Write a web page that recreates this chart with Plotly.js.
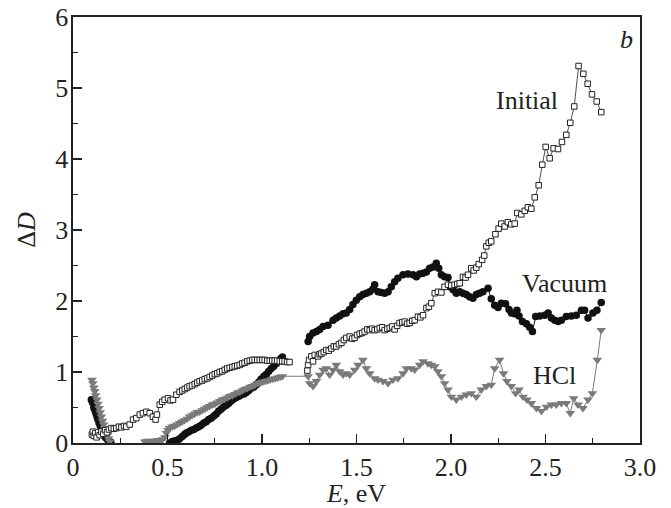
<!DOCTYPE html>
<html>
<head>
<meta charset="utf-8">
<script src="https://cdn.plot.ly/plotly-3.0.1.min.js"></script>
<style>html,body{margin:0;padding:0;background:#fff;}#chart{width:671px;height:508px;}</style>
</head>
<body>
<div id="chart"></div>
<script>
// ---- Data ----
// Initial (open squares); null marks the spectral gap
const initialE = [0.100,0.105,0.110,0.118,0.125,0.133,0.141,0.150,0.160,0.170,0.180,0.190,0.203,0.216,0.229,0.243,0.256,0.270,0.282,0.300,0.318,0.335,0.353,0.370,0.388,0.406,0.423,0.437,0.444,0.459,0.472,0.485,0.503,0.516,0.529,0.547,0.564,0.578,0.591,0.604,0.617,0.630,0.644,0.657,0.670,0.684,0.697,0.710,0.723,0.737,0.750,0.763,0.776,0.790,0.803,0.816,0.829,0.843,0.856,0.869,0.882,0.895,0.908,0.922,0.935,0.948,0.961,0.975,0.988,1.001,1.014,1.028,1.041,1.054,1.067,1.080,1.094,1.107,1.120,1.133,1.146,
 null,
 1.240,1.244,1.249,1.261,1.270,1.279,1.296,1.305,1.314,1.327,1.340,1.353,1.367,1.380,1.393,1.407,1.420,1.433,1.446,1.464,1.477,1.490,1.503,1.517,1.530,1.543,1.557,1.570,1.583,1.596,1.610,1.623,1.636,1.649,1.663,1.676,1.689,1.702,1.715,1.728,1.742,1.755,1.768,1.781,1.795,1.808,1.825,1.838,1.852,1.870,1.883,1.896,1.914,1.931,1.949,1.966,1.984,2.001,2.019,2.033,2.046,2.063,2.077,2.090,2.107,2.120,2.134,2.147,2.165,2.176,2.187,2.200,2.213,2.235,2.252,2.266,2.284,2.301,2.319,2.337,2.351,2.372,2.390,2.407,2.425,2.443,2.464,2.483,2.501,2.522,2.543,2.566,2.587,2.610,2.631,2.652,2.675,2.700,2.723,2.746,2.771,2.795];
const initialD = [0.12,0.16,0.10,0.14,0.08,0.15,0.11,0.16,0.13,0.18,0.15,0.19,0.21,0.20,0.21,0.23,0.22,0.24,0.23,0.26,0.33,0.35,0.40,0.42,0.44,0.42,0.37,0.33,0.40,0.54,0.58,0.61,0.63,0.60,0.61,0.68,0.72,0.74,0.76,0.78,0.80,0.81,0.83,0.85,0.87,0.88,0.90,0.91,0.93,0.95,0.97,0.98,1.00,1.01,1.03,1.05,1.06,1.07,1.08,1.09,1.10,1.12,1.13,1.15,1.16,1.17,1.17,1.17,1.17,1.17,1.17,1.16,1.16,1.16,1.16,1.16,1.15,1.15,1.15,1.14,1.14,
 null,
 1.02,1.10,1.17,1.22,1.15,1.24,1.22,1.25,1.26,1.28,1.31,1.30,1.33,1.36,1.36,1.39,1.41,1.45,1.48,1.50,1.47,1.48,1.52,1.54,1.55,1.57,1.60,1.59,1.61,1.59,1.60,1.62,1.63,1.59,1.61,1.62,1.64,1.60,1.65,1.69,1.70,1.71,1.68,1.69,1.72,1.73,1.78,1.77,1.80,1.90,1.92,1.97,2.11,2.13,2.12,2.20,2.23,2.22,2.23,2.24,2.25,2.34,2.33,2.37,2.46,2.43,2.47,2.52,2.58,2.64,2.77,2.82,2.84,2.94,3.02,3.09,3.05,3.11,3.08,3.09,3.24,3.22,3.27,3.32,3.30,3.46,3.63,3.92,4.17,4.01,4.15,4.14,4.24,4.34,4.51,4.74,5.31,5.20,5.06,4.91,4.81,4.66];

// Vacuum (filled circles)
const vacuumE = [0.097,0.103,0.110,0.115,0.121,0.127,0.132,0.138,0.144,0.150,0.156,0.162,0.168,0.175,0.182,0.190,0.200,0.215,0.250,0.300,0.350,0.400,0.450,0.490,0.511,0.525,0.540,0.552,0.564,0.578,0.590,0.600,0.613,0.626,0.639,0.652,0.665,0.678,0.692,0.705,0.718,0.731,0.745,0.758,0.771,0.785,0.798,0.811,0.824,0.837,0.850,0.864,0.877,0.890,0.904,0.917,0.930,0.943,0.957,0.970,0.983,0.996,1.010,1.023,1.036,1.049,1.062,1.076,1.090,1.100,1.108,
 null,
 1.244,1.252,1.270,1.288,1.305,1.323,1.349,1.376,1.393,1.411,1.429,1.446,1.464,1.481,1.499,1.517,1.534,1.552,1.570,1.587,1.596,1.614,1.631,1.649,1.667,1.684,1.702,1.719,1.746,1.772,1.799,1.817,1.834,1.852,1.870,1.887,1.905,1.922,1.935,1.949,1.966,1.984,1.993,2.011,2.028,2.046,2.063,2.081,2.098,2.116,2.134,2.151,2.169,2.196,2.213,2.231,2.249,2.266,2.289,2.307,2.319,2.337,2.349,2.360,2.378,2.399,2.416,2.431,2.448,2.470,2.496,2.514,2.531,2.549,2.567,2.584,2.610,2.637,2.663,2.690,2.707,2.725,2.751,2.772,2.795];
const vacuumD = [0.61,0.57,0.50,0.47,0.42,0.37,0.33,0.28,0.24,0.19,0.15,0.12,0.09,0.07,0.05,0.03,0.01,-0.05,-0.20,-0.30,-0.35,-0.30,-0.20,-0.06,0.00,0.02,0.03,0.04,0.06,0.09,0.12,0.14,0.16,0.18,0.19,0.21,0.23,0.25,0.28,0.30,0.33,0.35,0.38,0.41,0.45,0.48,0.51,0.53,0.56,0.59,0.62,0.64,0.66,0.68,0.69,0.71,0.74,0.77,0.79,0.82,0.86,0.90,0.94,0.97,1.01,1.05,1.08,1.12,1.16,1.19,1.21,
 null,
 1.43,1.50,1.55,1.57,1.60,1.64,1.66,1.73,1.76,1.79,1.82,1.83,1.88,1.95,2.01,2.06,2.09,2.11,2.13,2.17,2.23,2.13,2.12,2.11,2.13,2.20,2.27,2.32,2.37,2.38,2.37,2.34,2.38,2.39,2.41,2.46,2.48,2.53,2.46,2.37,2.34,2.33,2.20,2.16,2.11,2.13,2.11,2.09,2.06,2.04,2.09,2.11,2.13,2.18,2.03,1.94,1.91,1.97,1.96,1.88,1.83,1.82,1.87,1.79,1.71,1.68,1.63,1.57,1.78,1.79,1.80,1.83,1.76,1.73,1.71,1.73,1.78,1.79,1.80,1.87,1.87,1.76,1.83,1.87,1.98];

// HCl (down triangles)
const hclE = [0.100,0.105,0.110,0.115,0.120,0.126,0.132,0.138,0.144,0.150,0.156,0.162,0.168,0.175,0.182,0.188,0.194,0.200,0.250,0.300,0.350,0.380,0.393,0.406,0.420,0.433,0.446,0.460,0.473,0.486,0.494,0.502,0.511,0.524,0.537,0.550,0.564,0.577,0.590,0.604,0.617,0.630,0.643,0.657,0.670,0.683,0.697,0.710,0.723,0.737,0.750,0.763,0.777,0.790,0.803,0.817,0.830,0.843,0.857,0.870,0.883,0.897,0.910,0.923,0.937,0.950,0.963,0.977,0.990,1.003,1.017,1.030,1.043,1.057,1.070,1.083,1.096,1.108,
 1.244,1.252,1.270,1.288,1.305,1.323,1.340,1.358,1.376,1.393,1.411,1.429,1.446,1.464,1.490,1.508,1.534,1.552,1.570,1.596,1.614,1.640,1.667,1.693,1.719,1.746,1.764,1.790,1.808,1.834,1.852,1.878,1.896,1.914,1.931,1.949,1.966,1.984,2.002,2.028,2.055,2.081,2.107,2.134,2.160,2.187,2.213,2.231,2.257,2.278,2.296,2.319,2.342,2.360,2.381,2.402,2.425,2.452,2.478,2.505,2.531,2.557,2.584,2.610,2.631,2.649,2.672,2.698,2.725,2.748,2.774,2.795];
const hclD = [0.89,0.84,0.78,0.73,0.67,0.61,0.55,0.49,0.43,0.37,0.31,0.26,0.21,0.16,0.11,0.06,0.02,-0.05,-0.20,-0.25,-0.15,0.02,0.03,0.01,0.03,0.02,0.04,0.03,0.05,0.08,0.14,0.18,0.21,0.23,0.24,0.26,0.28,0.30,0.32,0.34,0.37,0.39,0.41,0.43,0.44,0.46,0.48,0.50,0.52,0.54,0.55,0.57,0.59,0.61,0.62,0.64,0.66,0.67,0.69,0.71,0.72,0.74,0.76,0.77,0.79,0.80,0.82,0.84,0.85,0.86,0.87,0.88,0.89,0.90,0.91,0.92,0.93,0.94,
 0.94,0.84,0.80,0.87,0.96,1.03,1.05,0.96,1.03,1.10,1.01,0.96,0.98,0.96,1.03,1.10,1.17,1.05,0.98,0.91,0.89,0.87,0.84,0.89,0.91,0.98,1.05,1.05,1.03,1.10,1.15,1.12,1.10,1.08,1.01,0.94,0.84,0.75,0.65,0.61,0.65,0.68,0.70,0.65,0.75,0.80,0.82,1.05,1.17,0.98,0.87,0.80,0.70,0.75,0.65,0.61,0.56,0.49,0.45,0.51,0.54,0.54,0.56,0.56,0.42,0.63,0.54,0.49,0.61,0.70,1.17,1.59];

// Axis ticks
const xTickVals = [0, 0.5, 1.0, 1.5, 2.0, 2.5, 3.0];
const xTickText = ['0', '0.5', '1.0', '1.5', '2.0', '2.5', '3.0'];
const yTickVals = [0, 1, 2, 3, 4, 5, 6];
const yTickText = ['0', '1', '2', '3', '4', '5', '6'];

// Curve labels
const labelText = ['Initial', 'Vacuum', 'HCl', '<i>b</i>'];
const labelE = [2.40, 2.60, 2.55, 2.93];
const labelD = [4.82, 2.25, 0.95, 5.68];

const FONT = 'Liberation Serif';
const TXT = '#222';
const FS = 26;

const traces = [
  {x: vacuumE, y: vacuumD, type: 'scatter', mode: 'lines+markers', name: 'Vacuum',
   line: {color: '#111', width: 1}, connectgaps: false,
   marker: {symbol: 'circle', size: 7.5, color: '#111', line: {width: 0}}},
  {x: hclE, y: hclD, type: 'scatter', mode: 'lines+markers', name: 'HCl',
   line: {color: '#7a7a7a', width: 1},
   marker: {symbol: 'triangle-down', size: 8.5, color: '#7a7a7a', line: {width: 0}}},
  {x: initialE, y: initialD, type: 'scatter', mode: 'lines+markers', name: 'Initial',
   line: {color: '#222', width: 0.8}, connectgaps: false,
   marker: {symbol: 'square', size: 5.5, color: '#fff', line: {color: '#222', width: 1}}}
];

const layout = {
  width: 671, height: 508,
  margin: {l: 73, r: 31, t: 17, b: 65, pad: 0},
  paper_bgcolor: '#fff', plot_bgcolor: '#fff',
  showlegend: false,
  font: {family: FONT, size: FS, color: TXT},
  xaxis: {
    range: [0, 3], autorange: false,
    tickvals: xTickVals, ticktext: xTickText,
    ticks: 'inside', ticklen: 9, tickwidth: 1.3, tickcolor: TXT,
    minor: {dtick: 0.25, tick0: 0, ticks: 'inside', ticklen: 5, tickwidth: 1.3, tickcolor: TXT, showgrid: false},
    showline: true, linecolor: TXT, linewidth: 1.6, mirror: true,
    showgrid: false, zeroline: false,
    tickfont: {family: FONT, size: FS, color: TXT},
    ticklabelstandoff: 0,
    title: {text: '<i>E</i>, eV', font: {family: FONT, size: FS, color: TXT}, standoff: 9}
  },
  yaxis: {
    range: [0, 6], autorange: false,
    tickvals: yTickVals, ticktext: yTickText,
    ticks: 'inside', ticklen: 9, tickwidth: 1.3, tickcolor: TXT,
    minor: {dtick: 0.5, tick0: 0, ticks: 'inside', ticklen: 5, tickwidth: 1.3, tickcolor: TXT, showgrid: false},
    showline: true, linecolor: TXT, linewidth: 1.6, mirror: true,
    showgrid: false, zeroline: false,
    tickfont: {family: FONT, size: FS, color: TXT},
    ticklabelstandoff: -2,
    title: {text: 'Δ<i>D</i>', font: {family: FONT, size: FS, color: TXT}, standoff: 12}
  },
  annotations: labelText.map((t, i) => ({
    x: labelE[i], y: labelD[i], xref: 'x', yref: 'y', text: t, showarrow: false,
    xanchor: 'center', yanchor: 'middle',
    font: {family: FONT, size: FS, color: TXT}
  }))
};

Plotly.newPlot('chart', traces, layout, {displayModeBar: false, staticPlot: true});
</script>
</body>
</html>
